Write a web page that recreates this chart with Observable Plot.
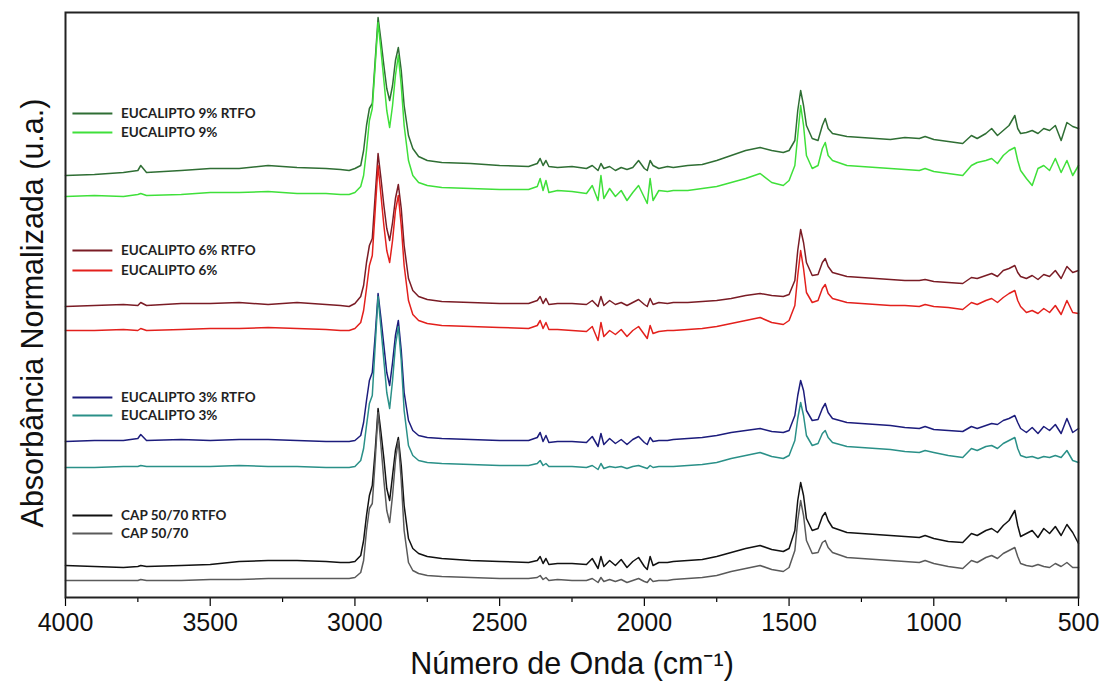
<!DOCTYPE html>
<html><head><meta charset="utf-8">
<script src="https://cdn.jsdelivr.net/npm/d3@7"></script>
<script src="https://cdn.jsdelivr.net/npm/@observablehq/plot@0.6"></script>
<style>body{margin:0;background:#fff;}</style>
</head><body><div id="chart"></div>
<script>
// Wavenumber grid (cm-1)
const wavenumbers = [4000,3900,3800,3750,3740,3720,3600,3500,3400,3300,3200,3100,3050,3020,3000,
2980,2970,2960,2950,2940,2930,2920,2910,2900,2890,2880,2870,2860,2850,2840,2830,2815,2800,
2780,2750,2700,2600,2500,2400,
2370,2360,2350,2340,2330,2300,2250,2200,
2180,2160,2150,2140,2120,2100,2080,2060,2040,2020,2000,1990,1980,1970,1950,
1920,1900,1850,1800,1750,1700,1650,1600,1560,1520,1500,
1480,1470,1460,1450,1440,1420,1400,1385,1375,1365,1350,
1300,1250,1200,1150,1100,1050,1030,1000,950,900,
870,850,820,800,780,760,740,720,710,700,
680,660,640,620,600,580,560,540,520,500];

// Offset normalized absorbance (arbitrary units, stacked)
const euc9RTFO = [425,426,428,430,435,428,430,432,432,435,433,432,431,430,432,
435,450,475,492,497,540,583,560,535,512,500,515,540,553,530,495,465,452,
444,440,438,437,435,434,
437,442,435,440,434,433,434,432,
435,430,437,432,434,430,433,431,433,440,432,430,440,435,432,
434,433,435,436,440,445,450,453,450,448,450,
460,490,510,495,475,462,460,475,482,472,467,
464,463,462,461,463,462,464,461,459,457,
465,462,467,472,465,470,475,485,472,467,
468,470,467,472,470,475,460,478,474,472];

const euc9 = [404,405,404,406,407,405,406,408,408,409,407,407,406,406,408,
414,425,450,480,492,535,578,550,520,490,473,495,525,545,515,475,440,425,
418,415,413,412,411,411,
414,422,410,420,408,410,409,407,
415,400,425,402,412,404,410,400,408,415,403,397,422,400,410,
409,410,410,412,414,418,422,427,418,415,420,
435,465,495,475,445,432,435,452,458,445,440,
435,434,433,432,431,430,432,429,427,425,
435,438,440,442,437,445,450,453,440,430,
422,415,432,435,430,442,428,440,425,435];

const euc6RTFO = [294,295,296,295,298,295,297,297,298,296,298,296,295,294,297,
304,315,338,355,362,405,447,422,395,372,360,378,402,416,392,355,322,310,
304,301,299,298,297,297,
300,304,297,302,296,297,297,296,
300,294,304,295,300,296,298,295,298,301,296,294,302,296,298,
297,298,298,299,300,302,305,307,305,304,306,
320,350,371,358,338,325,326,338,342,334,328,
324,323,322,321,320,320,321,319,318,317,
323,322,325,327,324,330,332,335,328,324,
322,325,321,326,324,330,322,334,328,330];

const euc6 = [270,270,271,270,272,270,271,272,272,273,272,271,270,270,272,
278,290,312,335,345,390,435,405,375,350,338,360,390,405,375,335,300,286,
280,277,275,274,273,272,
275,280,272,278,271,271,270,269,
274,260,278,264,270,266,271,264,270,274,266,262,275,267,269,
270,270,271,272,274,277,280,283,278,276,280,
295,325,350,332,308,298,300,312,316,307,302,
298,297,296,295,295,294,296,294,293,291,
298,296,300,302,298,303,307,310,300,294,
288,290,287,292,288,295,286,300,288,287];

const euc3RTFO = [159,160,160,162,166,160,161,160,161,161,160,159,159,159,160,
165,178,200,220,228,265,307,282,255,228,215,238,265,280,250,208,180,170,
165,163,162,161,160,160,
163,168,159,165,158,159,159,158,
164,154,167,156,162,157,161,156,161,164,158,156,163,159,160,
160,161,162,163,165,168,170,172,169,168,170,
185,205,220,210,190,180,181,192,197,188,182,
178,177,176,175,173,172,174,171,170,169,
174,172,175,177,176,180,182,185,178,172,
168,173,167,174,170,176,167,182,168,172];

const euc3 = [133,133,134,134,135,134,134,134,135,134,134,133,133,133,134,
140,152,175,197,205,255,304,272,240,208,192,220,255,274,240,190,155,145,
140,138,137,136,135,135,
137,140,135,137,134,134,134,133,
135,131,137,132,134,133,134,132,134,135,133,132,135,133,134,
134,134,135,136,138,142,145,148,144,142,145,
160,182,198,185,165,155,157,167,170,163,158,
154,153,152,151,149,148,150,148,145,143,
152,150,154,155,152,157,160,163,152,145,
143,144,142,144,143,145,143,150,140,138];

const cap5070RTFO = [35,34,33,34,35,34,35,36,39,40,40,39,38,38,39,
45,60,85,105,115,150,192,168,142,112,100,125,150,163,135,95,62,52,
47,44,42,40,39,38,
40,44,37,42,36,37,37,36,
42,32,44,34,40,35,41,33,39,43,34,31,44,35,38,
38,39,40,41,44,48,52,55,51,49,52,
70,100,118,105,82,70,72,84,88,80,73,
68,67,66,65,64,63,65,62,59,58,
67,65,70,72,68,75,80,90,75,64,
67,70,63,72,67,74,65,76,68,57];

const cap5070 = [20,20,20,20,21,20,20,21,21,22,22,22,22,22,23,
28,40,70,92,97,140,188,155,120,90,78,105,140,160,120,70,38,30,
27,25,24,23,22,22,
23,25,21,23,20,21,20,20,
22,18,23,19,21,19,21,18,20,22,19,18,22,19,20,
20,21,22,23,25,29,32,35,31,29,33,
50,80,100,85,60,47,48,58,60,53,48,
43,42,41,40,39,38,40,37,34,32,
40,38,43,45,42,47,50,53,44,37,
35,34,36,34,33,37,34,38,33,33];

const seriesNames = ["EUCALIPTO 9% RTFO","EUCALIPTO 9%","EUCALIPTO 6% RTFO","EUCALIPTO 6%",
  "EUCALIPTO 3% RTFO","EUCALIPTO 3%","CAP 50/70 RTFO","CAP 50/70"];
const seriesValues = [euc9RTFO, euc9, euc6RTFO, euc6, euc3RTFO, euc3, cap5070RTFO, cap5070];
const seriesColors = ["#2f6e34","#3fe03a","#7a1c25","#e3201c","#1c1c7c","#2a9088","#111111","#5a5a5a"];
const majorTicks = [4000,3500,3000,2500,2000,1500,1000,500];
const minorTicks = [3750,3250,2750,2250,1750,1250,750];

seriesValues.forEach((v, i) => { if (v.length !== wavenumbers.length) throw new Error(seriesNames[i] + " length " + v.length + " vs " + wavenumbers.length); });

const rows = [];
seriesValues.forEach((vals, si) => vals.forEach((a, i) => rows.push({w: wavenumbers[i], a, s: seriesNames[si]})));

// legend layout (y level in plot units)
const legendLevels = [487, 468, 350, 330, 203, 185, 85, 67];
const legendRows = seriesNames.map((s, i) => ({s, y: legendLevels[i]}));

const axisFont = "'Liberation Sans', Arial, sans-serif";
const legendFont = "Lato, 'Open Sans', sans-serif";

const chart = Plot.plot({
  width: 1104, height: 684,
  marginLeft: 65, marginRight: 26, marginTop: 12, marginBottom: 87,
  style: {background: "#fff", fontFamily: axisFont},
  x: {domain: [4000, 500], axis: null},
  y: {domain: [3, 588], axis: null},
  color: {domain: seriesNames, range: seriesColors},
  marks: [
    Plot.axisX(minorTicks, {tickSize: 5, text: null, strokeWidth: 1.2, label: null}),
    Plot.axisX(majorTicks, {tickSize: 9, tickPadding: 7, fontSize: 25, tickFormat: d => String(d), fill: "#111", strokeWidth: 1.2, label: null}),
    Plot.line(rows, {x: "w", y: "a", z: "s", stroke: "s", strokeWidth: 1.5, curve: "linear"}),
    Plot.link(legendRows, {x1: 3976, x2: 3838, y1: "y", y2: "y", stroke: "s", strokeWidth: 2}),
    Plot.text(legendRows, {x: 3808, y: "y", text: "s", textAnchor: "start", fontSize: 13.5, fontWeight: "bold", fontFamily: legendFont, fill: "#222"}),
    Plot.frame({stroke: "#222", strokeWidth: 2}),
    Plot.text(["Número de Onda (cm⁻¹)"], {frameAnchor: "bottom", lineAnchor: "middle", dy: 67, fontSize: 30.5, fill: "#111"}),
    Plot.text(["Absorbância Normalizada (u.a.)"], {frameAnchor: "left", textAnchor: "middle", lineAnchor: "middle", rotate: -90, dx: -32, dy: 8, fontSize: 30.5, fill: "#111"})
  ]
});
document.getElementById("chart").appendChild(chart);
</script>
</body></html>
